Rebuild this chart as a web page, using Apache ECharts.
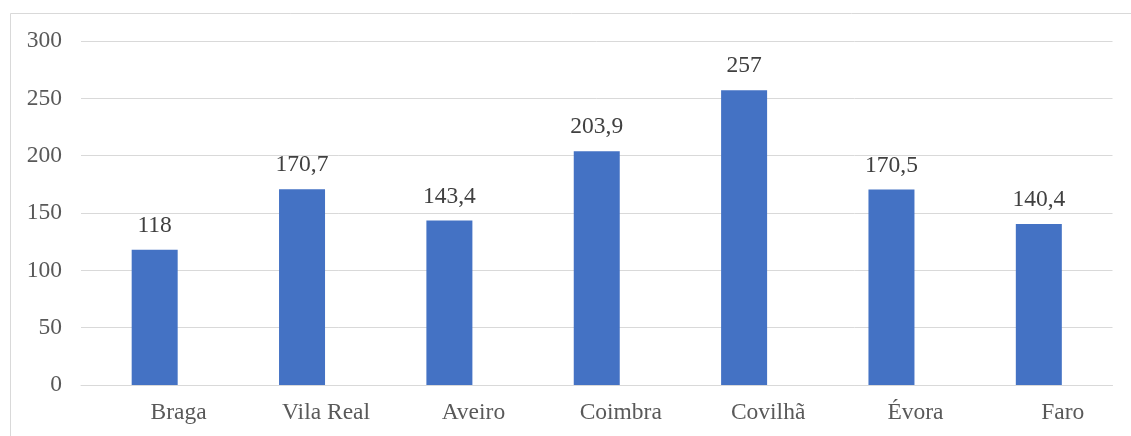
<!DOCTYPE html>
<html>
<head>
<meta charset="utf-8">
<script src="https://cdn.jsdelivr.net/npm/echarts@6/dist/echarts.min.js"></script>
<style>
  html, body { margin: 0; padding: 0; background: #ffffff; }
  #chart { width: 1131px; height: 436px; }
</style>
</head>
<body>
<div id="chart"></div>
<script>
// Cities and their values
const categories = ['Braga', 'Vila Real', 'Aveiro', 'Coimbra', 'Covilhã', 'Évora', 'Faro'];
const values = [118, 170.7, 143.4, 203.9, 257, 170.5, 140.4];
const yTicks = [0, 50, 100, 150, 200, 250, 300];

const FONT = '"Liberation Serif", "Times New Roman", serif';
const fmt = v => String(v).replace('.', ',');

const chart = echarts.init(document.getElementById('chart'), null, { renderer: 'canvas' });

chart.setOption({
  animation: false,
  backgroundColor: '#ffffff',
  graphic: [{
    type: 'rect',
    left: 8, top: 11,
    shape: { width: 1140, height: 440 },
    style: { fill: 'none', stroke: '#d9d9d9', lineWidth: 1 },
    silent: true
  }],
  grid: { left: 81, right: 18.5, top: 41, bottom: 51, containLabel: false },
  xAxis: {
    type: 'category',
    data: categories,
    axisLine: { show: true, lineStyle: { color: '#d9d9d9', width: 1 } },
    axisTick: { show: false },
    axisLabel: {
      color: '#595959',
      fontFamily: FONT,
      fontSize: 23.5,
      margin: 16,
      padding: [0, 0, 0, 48]
    }
  },
  yAxis: {
    type: 'value',
    min: yTicks[0],
    max: yTicks[yTicks.length - 1],
    interval: 50,
    axisLine: { show: false },
    axisTick: { show: false },
    splitLine: { lineStyle: { color: '#d9d9d9', width: 1 } },
    axisLabel: {
      color: '#595959',
      fontFamily: FONT,
      fontSize: 23.5,
      margin: 19
    }
  },
  series: [{
    type: 'bar',
    data: values,
    barWidth: 46,
    itemStyle: { color: '#4472c4' },
    label: {
      show: true,
      position: 'top',
      distance: 12,
      color: '#404040',
      fontFamily: FONT,
      fontSize: 23.5,
      formatter: p => fmt(p.value)
    }
  }]
});
</script>
</body>
</html>
